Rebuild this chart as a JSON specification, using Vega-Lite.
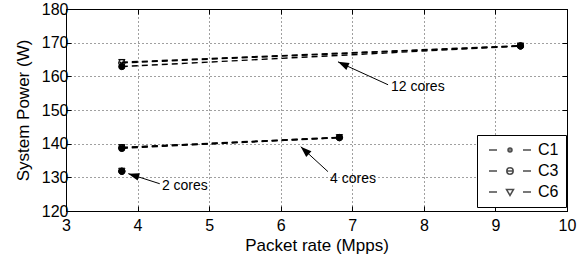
{
  "$schema": "https://vega.github.io/schema/vega-lite/v6.json",
  "width": 501,
  "height": 202,
  "autosize": {"type": "none"},
  "padding": {"left": 66, "top": 9, "right": 10, "bottom": 46},
  "background": "white",
  "config": {
    "font": "Liberation Sans",
    "view": {"stroke": "black", "strokeWidth": 1},
    "axis": {
      "labelFont": "Liberation Sans", "labelFontSize": 16, "labelColor": "black",
      "titleFont": "Liberation Sans", "titleFontSize": 17, "titleFontWeight": "normal", "titleColor": "black",
      "domainColor": "black", "tickColor": "black", "tickSize": -5,
      "gridColor": "black", "gridDash": [1, 3], "gridOpacity": 0.75,
      "labelFlush": false, "labelOverlap": false
    },
    "legend": {
      "labelFont": "Liberation Sans", "labelFontSize": 16, "labelColor": "black"
    }
  },
  "datasets": {
    "power": [
      {"series": "C1", "cores": "2 cores", "rate": 3.78, "power": 131.8},
      {"series": "C1", "cores": "4 cores", "rate": 3.78, "power": 138.6},
      {"series": "C1", "cores": "4 cores", "rate": 6.82, "power": 141.8},
      {"series": "C1", "cores": "12 cores", "rate": 3.78, "power": 162.9},
      {"series": "C1", "cores": "12 cores", "rate": 9.35, "power": 169.0},
      {"series": "C3", "cores": "2 cores", "rate": 3.78, "power": 131.8},
      {"series": "C3", "cores": "4 cores", "rate": 3.78, "power": 138.8},
      {"series": "C3", "cores": "4 cores", "rate": 6.82, "power": 141.8},
      {"series": "C3", "cores": "12 cores", "rate": 3.78, "power": 164.0},
      {"series": "C3", "cores": "12 cores", "rate": 9.35, "power": 169.0},
      {"series": "C6", "cores": "2 cores", "rate": 3.78, "power": 131.9},
      {"series": "C6", "cores": "4 cores", "rate": 3.78, "power": 138.9},
      {"series": "C6", "cores": "4 cores", "rate": 6.82, "power": 141.9},
      {"series": "C6", "cores": "12 cores", "rate": 3.78, "power": 164.2},
      {"series": "C6", "cores": "12 cores", "rate": 9.35, "power": 169.1}
    ],
    "notes": [
      {"label": "12 cores", "tipRate": 6.80, "tipPower": 164.3, "tailRate": 7.50, "tailPower": 157.5, "textRate": 7.54, "textPower": 156.7},
      {"label": "4 cores", "tipRate": 6.28, "tipPower": 139.1, "tailRate": 6.66, "tailPower": 131.7, "textRate": 6.69, "textPower": 129.6},
      {"label": "2 cores", "tipRate": 3.87, "tipPower": 131.1, "tailRate": 4.31, "tailPower": 128.1, "textRate": 4.34, "textPower": 127.5}
    ]
  },
  "layer": [
    {
      "data": {"name": "power"},
      "mark": {"type": "line", "color": "black", "strokeWidth": 1.4, "strokeDash": [6, 4]},
      "encoding": {
        "x": {"field": "rate", "type": "quantitative", "scale": {"domain": [3, 10], "nice": false, "zero": false},
              "axis": {"orient": "bottom", "values": [3, 4, 5, 6, 7, 8, 9, 10], "format": "d", "title": "Packet rate (Mpps)", "grid": true, "labelPadding": 11, "titlePadding": 4}},
        "y": {"field": "power", "type": "quantitative", "scale": {"domain": [120, 180], "nice": false, "zero": false},
              "axis": {"orient": "left", "values": [120, 130, 140, 150, 160, 170, 180], "title": "System Power (W)", "grid": true, "labelPadding": 3, "titlePadding": 9}},
        "detail": [{"field": "series"}, {"field": "cores"}],
        "order": {"field": "rate"}
      }
    },
    {
      "data": {"name": "power"},
      "mark": {"type": "point", "color": "black", "strokeWidth": 1, "size": 40, "opacity": 1},
      "encoding": {
        "x": {"field": "rate", "type": "quantitative",
              "axis": {"orient": "top", "values": [3, 4, 5, 6, 7, 8, 9, 10], "labels": false, "title": null, "grid": false, "domain": false}},
        "y": {"field": "power", "type": "quantitative",
              "axis": {"orient": "right", "values": [120, 130, 140, 150, 160, 170, 180], "labels": false, "title": null, "grid": false, "domain": false}},
        "shape": {"field": "series", "type": "nominal",
                  "scale": {"domain": ["C1", "C3", "C6"], "range": ["circle", "M-1,0A1,1,0,1,1,1,0A1,1,0,1,1,-1,0ZM-1,0L1,0", "triangle-down"]},
                  "legend": null},
        "fill": {"field": "series", "type": "nominal",
                 "scale": {"domain": ["C1", "C3", "C6"], "range": ["black", "transparent", "transparent"]},
                 "legend": null}
      }
    },
    {
      "data": {"name": "power"},
      "transform": [{"filter": "datum.series == 'none'"}],
      "mark": {"type": "point", "color": "black", "strokeWidth": 1},
      "encoding": {
        "x": {"field": "rate", "type": "quantitative", "axis": null},
        "y": {"field": "power", "type": "quantitative", "axis": null},
        "shape": {"field": "series", "type": "nominal",
                  "scale": {"domain": ["C1", "C3", "C6"], "range": [
                    "M-21,0L-13,0M13,0L21,0M-2,0A2,2,0,1,1,2,0A2,2,0,1,1,-2,0Z",
                    "M-21,0L-13,0M13,0L21,0M-3.2,0A3.2,3.2,0,1,1,3.2,0A3.2,3.2,0,1,1,-3.2,0ZM-3.2,0L3.2,0",
                    "M-21,0L-13,0M13,0L21,0M-3.5,-2.5L3.5,-2.5L0,3.5Z"]},
                  "legend": {"title": null, "orient": "none", "legendX": 411, "legendY": 126,
                             "strokeColor": "black", "fillColor": "white", "padding": 7,
                             "symbolSize": 4, "symbolOffset": 18, "labelOffset": 20, "rowPadding": 5,
                             "encode": {"symbols": {"update": {"stroke": {"value": "black"}, "strokeWidth": {"value": 1}, "opacity": {"value": 1}}}}}},
        "fill": {"field": "series", "type": "nominal",
                 "scale": {"domain": ["C1", "C3", "C6"], "range": ["black", "transparent", "transparent"]},
                 "legend": {"title": null, "orient": "none", "legendX": 411, "legendY": 126,
                             "strokeColor": "black", "fillColor": "white", "padding": 7,
                             "symbolSize": 4, "symbolOffset": 18, "labelOffset": 20, "rowPadding": 5,
                             "encode": {"symbols": {"update": {"stroke": {"value": "black"}, "strokeWidth": {"value": 1}, "opacity": {"value": 1}}}}}}
      }
    },
    {
      "data": {"name": "notes"},
      "mark": {"type": "rule", "color": "black", "strokeWidth": 1},
      "encoding": {
        "x": {"field": "tailRate", "type": "quantitative", "axis": null},
        "y": {"field": "tailPower", "type": "quantitative", "axis": null},
        "x2": {"field": "tipRate"},
        "y2": {"field": "tipPower"}
      }
    },
    {
      "data": {"name": "notes"},
      "transform": [{"filter": "datum.label == '12 cores'"}],
      "mark": {"type": "point", "shape": "M0,0L-0.7,2L0.7,2Z", "size": 121, "filled": true, "color": "black", "opacity": 1, "angle": 294.7},
      "encoding": {
        "x": {"field": "tipRate", "type": "quantitative", "axis": null},
        "y": {"field": "tipPower", "type": "quantitative", "axis": null}
      }
    },
    {
      "data": {"name": "notes"},
      "transform": [{"filter": "datum.label == '4 cores'"}],
      "mark": {"type": "point", "shape": "M0,0L-0.7,2L0.7,2Z", "size": 121, "filled": true, "color": "black", "opacity": 1, "angle": 312.8},
      "encoding": {
        "x": {"field": "tipRate", "type": "quantitative", "axis": null},
        "y": {"field": "tipPower", "type": "quantitative", "axis": null}
      }
    },
    {
      "data": {"name": "notes"},
      "transform": [{"filter": "datum.label == '2 cores'"}],
      "mark": {"type": "point", "shape": "M0,0L-0.7,2L0.7,2Z", "size": 121, "filled": true, "color": "black", "opacity": 1, "angle": 287.4},
      "encoding": {
        "x": {"field": "tipRate", "type": "quantitative", "axis": null},
        "y": {"field": "tipPower", "type": "quantitative", "axis": null}
      }
    },
    {
      "data": {"name": "notes"},
      "mark": {"type": "text", "align": "left", "baseline": "middle", "fontSize": 14, "font": "Liberation Sans", "color": "black"},
      "encoding": {
        "x": {"field": "textRate", "type": "quantitative", "axis": null},
        "y": {"field": "textPower", "type": "quantitative", "axis": null},
        "text": {"field": "label"}
      }
    }
  ],
  "resolve": {
    "axis": {"x": "independent", "y": "independent"},
    "scale": {"shape": "independent", "fill": "independent"}
  }
}
